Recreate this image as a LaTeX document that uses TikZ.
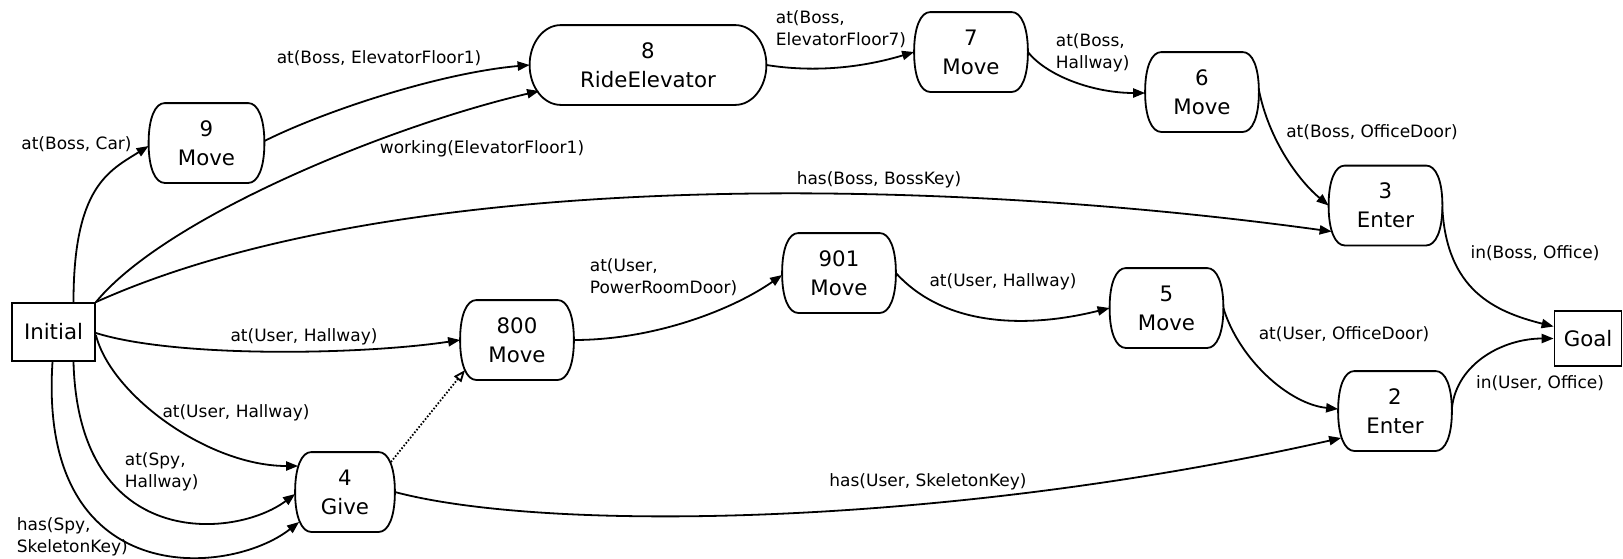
\documentclass[tikz,border=0pt]{standalone}
\usepackage{fontspec}
\setmainfont{DejaVu Sans}
\usetikzlibrary{arrows.meta,calc}

\newcommand\nodefont{\fontsize{10.65pt}{14.5pt}\selectfont}
\newcommand\lblfont{\fontsize{8.5pt}{11pt}\selectfont}
% outline of an action node: flat top and bottom, rounded bowed ends
% #1 node, #2 corner width, #3 horizontal handle, #4 vertical handle
\newcommand\actoutline[4]{%
  \draw ($(#1.north east)+(-#2,0)$) .. controls +(#3,0) and +(0,-#4) .. (#1.east)
    .. controls +(0,#4) and +(#3,0) .. ($(#1.south east)+(-#2,0)$)
    -- ($(#1.south west)+(#2,0)$) .. controls +(-#3,0) and +(0,#4) .. (#1.west)
    .. controls +(0,-#4) and +(-#3,0) .. ($(#1.north west)+(#2,0)$) -- cycle;}

\begin{document}
\begin{tikzpicture}[x=0.5pt,y=-0.5pt,line width=0.9pt,
  statebox/.style={draw,rectangle,inner sep=0pt,font=\nodefont},
  act/.style={rectangle,inner sep=0pt,minimum height=39pt,minimum width=56pt,
    align=center,font=\nodefont},
  lbl/.style={inner sep=0pt,font=\lblfont},
  lbll/.style={lbl,anchor=west,align=left},
  flow/.style={-{Triangle[length=6pt,width=4.6pt]}},
  enable/.style={dash pattern=on 0.8pt off 0.9pt,
    -{Triangle[open,length=6pt,width=4.6pt]}}]
\useasboundingbox (0,0) rectangle (1623,558);

% start and goal states
\node[statebox,minimum width=41.5pt,minimum height=29pt] (ini) at (53.5,332) {Initial};
\node[statebox,minimum width=33.5pt,minimum height=27.5pt] (goal) at (1588,338.5) {Goal};

% actions
\node[act,minimum width=57pt] (n9) at (206.5,143) {9\\Move};
\node[act,minimum width=117.5pt] (n8) at (648,65) {8\\RideElevator};
\node[act] (n7) at (971,52) {7\\Move};
\node[act] (n6) at (1202,92) {6\\Move};
\node[act] (n3) at (1385.5,205.5) {3\\Enter};
\node[act] (n901) at (839,273) {901\\Move};
\node[act] (n800) at (517,340) {800\\Move};
\node[act] (n5) at (1166.5,308) {5\\Move};
\node[act] (n2) at (1395,411) {2\\Enter};
\node[act,minimum width=49pt] (n4) at (345,492) {4\\Give};

\actoutline{n9}{16}{9}{26}
\actoutline{n8}{31}{17}{22}
\actoutline{n7}{16}{9}{26}
\actoutline{n6}{16}{9}{26}
\actoutline{n3}{16}{9}{26}
\actoutline{n901}{16}{9}{26}
\actoutline{n800}{16}{9}{26}
\actoutline{n5}{16}{9}{26}
\actoutline{n2}{16}{9}{26}
\actoutline{n4}{16}{9}{26}

% causal links
\draw[flow] ($(ini.north)+(20,0)$) .. controls +(0,-115) and +(-40,25) .. ($(n9.west)+(0,3)$);
\draw[flow] ($(n9.east)+(0,-2)$) .. controls +(60,-30) and +(-90,8) .. (n8.west);
\draw[flow] (ini.north east) .. controls +(70,-85) and +(-150,35) .. ($(n8.west)+(9.5,26)$);
\draw[flow] (ini.north east) .. controls +(300,-135) and +(-400,-55) .. ($(n3.west)+(3,26)$);
\draw[flow] ($(ini.east)+(0,1)$) .. controls +(80,25) and +(-100,15) .. (n800.west);
\draw[flow] ($(ini.east)+(0,3)$) .. controls +(15,60) and +(-90,0) .. ($(n4.west)+(3,-26)$);
\draw[flow] ($(ini.south)+(20,0)$) .. controls +(5,190) and +(-60,45) .. ($(n4.west)+(0,2)$);
\draw[flow] ($(ini.south)+(-1,0)$) .. controls +(-15,230) and +(-70,55) .. ($(n4.west)+(4,30)$);
\draw[enable] ($(n4.east)+(-4,-30)$) -- ($(n800.west)+(5,30)$);
\draw[flow] (n4.east) .. controls +(150,40) and +(-400,90) .. ($(n2.west)+(3,27)$);
\draw[flow] (n800.east) .. controls +(80,0) and +(-50,35) .. ($(n901.west)+(0,2)$);
\draw[flow] (n901.east) .. controls +(50,55) and +(-80,20) .. (n5.west);
\draw[flow] (n5.east) .. controls +(15,50) and +(-50,-5) .. ($(n2.west)+(0,-2)$);
\draw[flow] (n8.east) .. controls +(50,8) and +(-50,15) .. (n7.west);
\draw[flow] (n7.east) .. controls +(20,25) and +(-50,0) .. ($(n6.west)+(0,1)$);
\draw[flow] ($(n6.east)+(0,-2)$) .. controls +(10,50) and +(-30,-25) .. (n3.west);
\draw[flow] ($(n3.east)+(0,4)$) .. controls +(5,80) and +(-60,-15) .. ($(goal.west)+(0,-12)$);
\draw[flow] ($(n2.east)+(0,-3)$) .. controls +(5,-45) and +(-50,0) .. (goal.west);

% link labels
\node[lbl] (l1) at (76.5,144) {at(Boss, Car)};
\node[lbl] (l2) at (379,58) {at(Boss, ElevatorFloor1)};
\node[lbl] (l3) at (482,149) {working(ElevatorFloor1)};
\node[lbll] (l4) at (775,29) {at(Boss,\\ElevatorFloor7)};
\node[lbll] (l5) at (1055,53) {at(Boss,\\Hallway)};
\node[lbl] (l6) at (1372,132) {at(Boss, OfficeDoor)};
\node[lbl] (l7) at (879,180) {has(Boss, BossKey)};
\node[lbl] (l8) at (1535,253) {in(Boss, Office)};
\node[lbll] (l9) at (589,277.5) {at(User,\\PowerRoomDoor)};
\node[lbl] (l10) at (1003,282) {at(User, Hallway)};
\node[lbl] (l11) at (1344,334) {at(User, OfficeDoor)};
\node[lbl] (l12) at (1540,383) {in(User, Office)};
\node[lbl] (l13) at (304,337) {at(User, Hallway)};
\node[lbl] (l14) at (236,413) {at(User, Hallway)};
\node[lbll] (l15) at (124,472) {at(Spy,\\Hallway)};
\node[lbll] (l16) at (16,536.5) {has(Spy,\\SkeletonKey)};
\node[lbl] (l17) at (928,482) {has(User, SkeletonKey)};
\end{tikzpicture}
\end{document}
